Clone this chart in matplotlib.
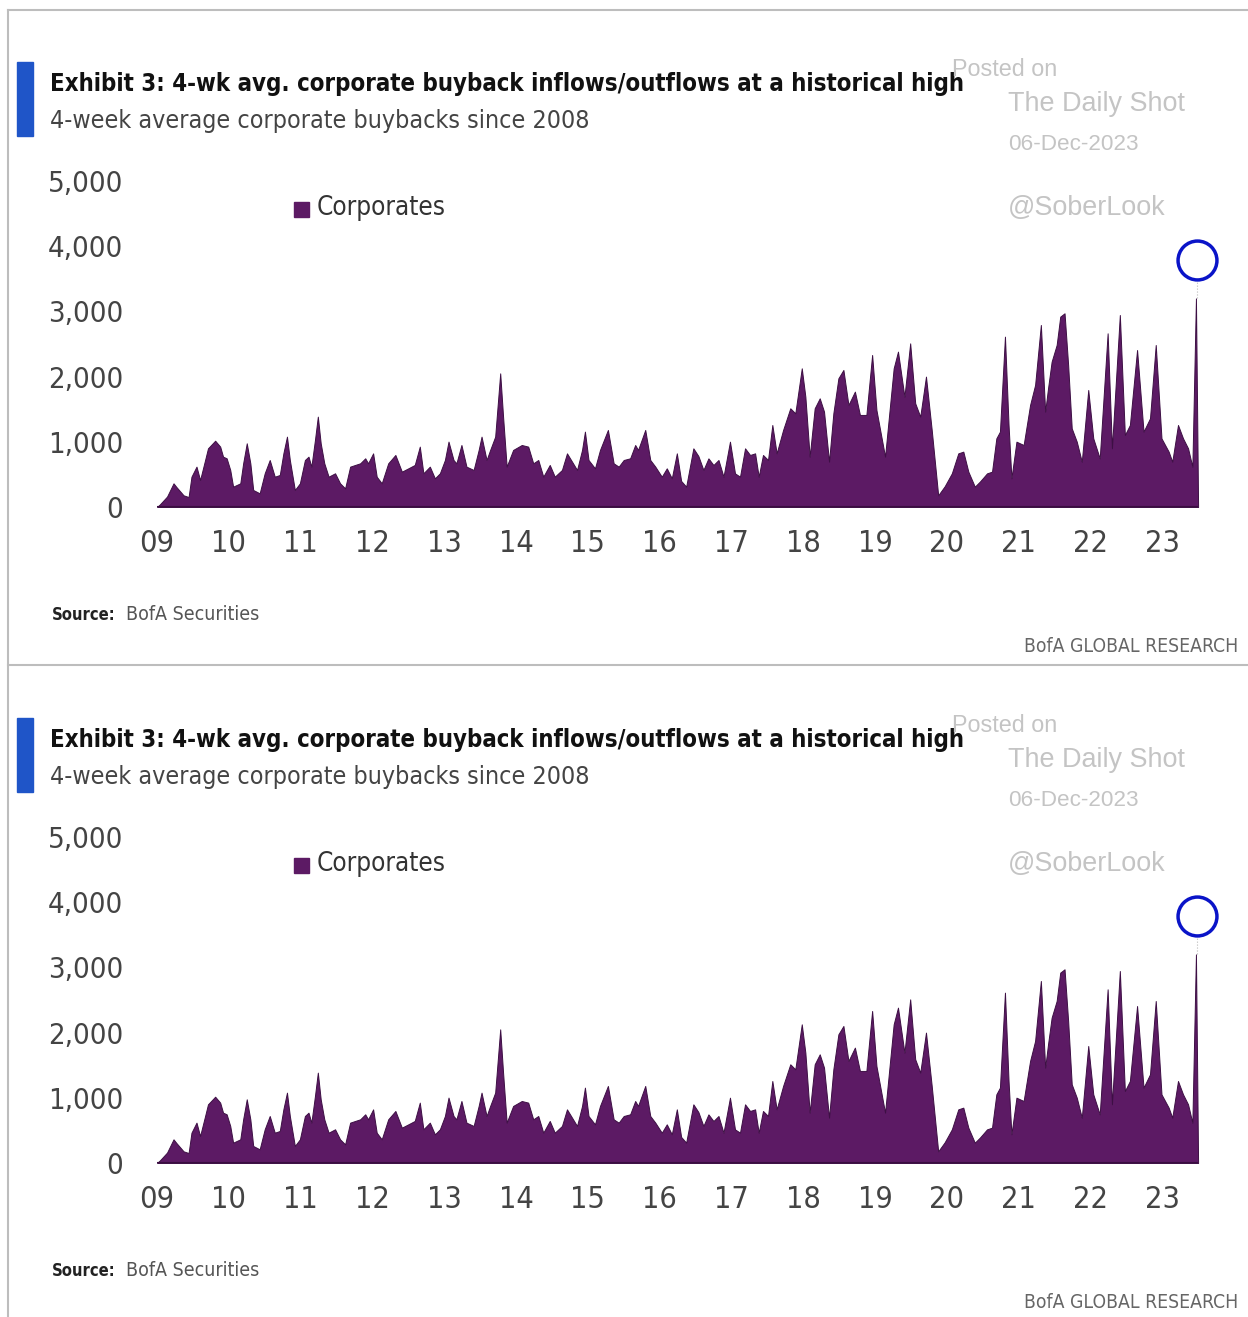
import matplotlib.pyplot as plt
from matplotlib.lines import Line2D
from matplotlib.patches import Rectangle

# ---------- data ----------
years = [2009.00, 2009.04, 2009.14, 2009.23, 2009.27, 2009.37, 2009.44, 2009.48, 2009.55, 2009.60,
         2009.67, 2009.71, 2009.81, 2009.88, 2009.92, 2009.97, 2010.02, 2010.06, 2010.16, 2010.20,
         2010.25, 2010.30, 2010.34, 2010.43, 2010.50, 2010.57, 2010.64, 2010.71, 2010.76, 2010.81,
         2010.85, 2010.92, 2010.99, 2011.06, 2011.11, 2011.15, 2011.20, 2011.24, 2011.28, 2011.33,
         2011.39, 2011.48, 2011.55, 2011.62, 2011.69, 2011.76, 2011.83, 2011.90, 2011.94, 2012.01,
         2012.06, 2012.13, 2012.22, 2012.32, 2012.41, 2012.50, 2012.59, 2012.66, 2012.71, 2012.80,
         2012.87, 2012.94, 2013.01, 2013.06, 2013.13, 2013.17, 2013.24, 2013.31, 2013.41, 2013.48,
         2013.52, 2013.59, 2013.64, 2013.71, 2013.78, 2013.82, 2013.87, 2013.96, 2014.08, 2014.17,
         2014.24, 2014.31, 2014.38, 2014.47, 2014.54, 2014.64, 2014.71, 2014.78, 2014.85, 2014.92,
         2014.96, 2015.01, 2015.10, 2015.17, 2015.28, 2015.36, 2015.43, 2015.50, 2015.59, 2015.66,
         2015.70, 2015.80, 2015.87, 2015.94, 2016.03, 2016.10, 2016.17, 2016.24, 2016.30, 2016.37,
         2016.47, 2016.54, 2016.61, 2016.68, 2016.75, 2016.82, 2016.89, 2016.98, 2017.05, 2017.12,
         2017.19, 2017.26, 2017.33, 2017.38, 2017.44, 2017.51, 2017.57, 2017.63, 2017.72, 2017.82,
         2017.89, 2017.98, 2018.03, 2018.09, 2018.16, 2018.23, 2018.29, 2018.36, 2018.42, 2018.49,
         2018.56, 2018.63, 2018.72, 2018.79, 2018.88, 2018.96, 2019.02, 2019.14, 2019.26, 2019.32,
         2019.41, 2019.49, 2019.56, 2019.63, 2019.71, 2019.79, 2019.88, 2019.97, 2020.07, 2020.16,
         2020.23, 2020.30, 2020.39, 2020.46, 2020.56, 2020.63, 2020.69, 2020.74, 2020.81, 2020.86,
         2020.90, 2020.97, 2021.07, 2021.16, 2021.23, 2021.31, 2021.37, 2021.41, 2021.46, 2021.53,
         2021.58, 2021.64, 2021.69, 2021.74, 2021.81, 2021.88, 2021.97, 2022.04, 2022.13, 2022.24,
         2022.30, 2022.41, 2022.48, 2022.55, 2022.65, 2022.74, 2022.83, 2022.91, 2022.99, 2023.09,
         2023.14, 2023.22, 2023.29, 2023.36, 2023.42, 2023.47, 2023.50]
buybacks = [0, 40, 160, 363, 307, 179, 153, 465, 619, 414,
            721, 900, 1017, 926, 772, 747, 568, 312, 363, 670,
            977, 670, 261, 210, 517, 721, 465, 491, 823, 1079,
            721, 261, 363, 721, 772, 619, 1028, 1386, 977, 670,
            465, 517, 363, 286, 619, 645, 670, 747, 670, 823,
            465, 363, 670, 798, 542, 593, 645, 926, 517, 619,
            440, 517, 721, 1003, 721, 670, 951, 619, 568, 875,
            1079, 721, 875, 1079, 2050, 1386, 619, 875, 951, 926,
            670, 721, 465, 645, 465, 568, 823, 696, 568, 875,
            1156, 721, 593, 875, 1182, 670, 619, 721, 747, 951,
            875, 1182, 721, 619, 465, 593, 440, 823, 400, 312,
            900, 782, 568, 746, 644, 721, 465, 1002, 516, 465,
            900, 798, 823, 465, 798, 721, 1258, 823, 1181, 1514,
            1437, 2127, 1693, 772, 1514, 1667, 1463, 695, 1437, 1974,
            2102, 1565, 1770, 1412, 1412, 2332, 1488, 772, 2127, 2383,
            1693, 2510, 1591, 1386, 2000, 1181, 179, 317, 516, 823,
            849, 542, 312, 389, 516, 542, 1053, 1156, 2613, 1258,
            440, 1002, 951, 1565, 1872, 2792, 1463, 1821, 2229, 2485,
            2920, 2971, 2178, 1207, 1002, 695, 1795, 1053, 746, 2664,
            900, 2945, 1104, 1258, 2408, 1156, 1360, 2485, 1053, 849,
            695, 1258, 1053, 900, 618, 3200, 0]
highlight_x = 2023.48
highlight_y = 3790

year_ticks = list(range(2009, 2024))
year_labels = [f"{y % 100:02d}" for y in year_ticks]
value_ticks = [0, 1000, 2000, 3000, 4000, 5000]
value_labels = ["0", "1,000", "2,000", "3,000", "4,000", "5,000"]

TITLE = "Exhibit 3: 4-wk avg. corporate buyback inflows/outflows at a historical high"
SUBTITLE = "4-week average corporate buybacks since 2008"

# ---------- style ----------
W, H = 1248, 1317
PURPLE = "#5c1a64"
NARROW = dict(family="DejaVu Sans", stretch="condensed")
WM = dict(family="Liberation Sans", color="#c4c4c4", va="center")

fig = plt.figure(figsize=(W / 100, H / 100), dpi=100)
fig.patch.set_facecolor("white")
renderer = fig.canvas.get_renderer()


def fx(px):
    return px / W


def fy(py):
    return 1 - py / H


def fit(t, width_px):
    """shrink/grow fontsize so the text spans width_px"""
    w = t.get_window_extent(renderer).width
    t.set_fontsize(t.get_fontsize() * width_px / w)
    return t


def panel(off):
    # blue accent bar
    fig.patches.append(Rectangle((fx(17), fy(136 + off)), fx(16), 74 / H,
                                 transform=fig.transFigure, color="#1f55c8"))
    fit(fig.text(fx(50), fy(84 + off), TITLE, weight="bold", fontsize=20,
                 va="center", ha="left", color="#111111", **NARROW), 918)
    fit(fig.text(fx(50), fy(121 + off), SUBTITLE, fontsize=20,
                 va="center", ha="left", color="#444444", **NARROW), 538)

    # watermark
    fit(fig.text(fx(952), fy(69 + off), "Posted on", fontsize=16, **WM), 105)
    fit(fig.text(fx(1008), fy(104 + off), "The Daily Shot", fontsize=19, **WM), 177)
    fit(fig.text(fx(1008), fy(144 + off), "06-Dec-2023", fontsize=15, **WM), 130)
    fit(fig.text(fx(1008), fy(208 + off), "@SoberLook", fontsize=19, **WM), 157)

    # chart axes: x px 140..1215, y px 181 (5000) .. 507 (0)
    left, right, top, bot = 140, 1215, 181, 507
    ax = fig.add_axes([fx(left), fy(bot + off), (right - left) / W, (bot - top) / H])
    ax.set_xlim(2009 + (left - 157) / 71.8, 2009 + (right - 157) / 71.8)
    ax.set_ylim(0, 5000)
    ax.fill_between(years, buybacks, 0, color=PURPLE, lw=0.7, edgecolor="#3d0f44")
    ax.plot([years[0], years[-1]], [0, 0], color="#3a0d40", lw=1.5,
            solid_capstyle="butt")
    ax.plot([highlight_x, highlight_x], [max(buybacks), highlight_y - 280],
            color="#bbbbbb", lw=0.8, ls=":")
    ax.plot([highlight_x], [highlight_y], marker="o", ms=28, mfc="none",
            mec="#0a14c8", mew=2.5, clip_on=False)
    ax.patch.set_alpha(0)
    for s in ax.spines.values():
        s.set_visible(False)
    ax.set_xticks(year_ticks)
    ax.set_xticklabels(year_labels, fontsize=22, color="#444444", **NARROW)
    ax.set_yticks(value_ticks)
    ax.set_yticklabels(value_labels, fontsize=21, color="#444444", **NARROW)
    ax.tick_params(length=0)
    ax.tick_params(axis="y", pad=12)
    ax.tick_params(axis="x", pad=16)

    # legend
    fig.patches.append(Rectangle((fx(294), fy(217 + off)), fx(15), 15 / H,
                                 transform=fig.transFigure, color=PURPLE))
    fit(fig.text(fx(317), fy(208 + off), "Corporates", fontsize=22,
                 va="center", color="#333333", **NARROW), 129)

    # footer
    fit(fig.text(fx(52), fy(615 + off), "Source:", weight="bold",
                 fontsize=15, va="center", color="#222222", **NARROW), 64)
    fit(fig.text(fx(126), fy(615 + off), "BofA Securities",
                 fontsize=15, va="center", color="#555555", **NARROW), 133)
    fit(fig.text(fx(1238), fy(646 + off), "BofA GLOBAL RESEARCH",
                 fontsize=15, va="center", ha="right", color="#666666", **NARROW), 215)
    return ax


ax1 = panel(0)
ax2 = panel(656)

# frame lines
for yy in (10, 665):
    fig.lines.append(Line2D([fx(8), 1], [fy(yy), fy(yy)], transform=fig.transFigure,
                            color="#bdbdbd", lw=1.5))
fig.lines.append(Line2D([fx(8), fx(8)], [fy(10), 0], transform=fig.transFigure,
                        color="#bdbdbd", lw=1.5))

fig.savefig("out.png", dpi=100)
